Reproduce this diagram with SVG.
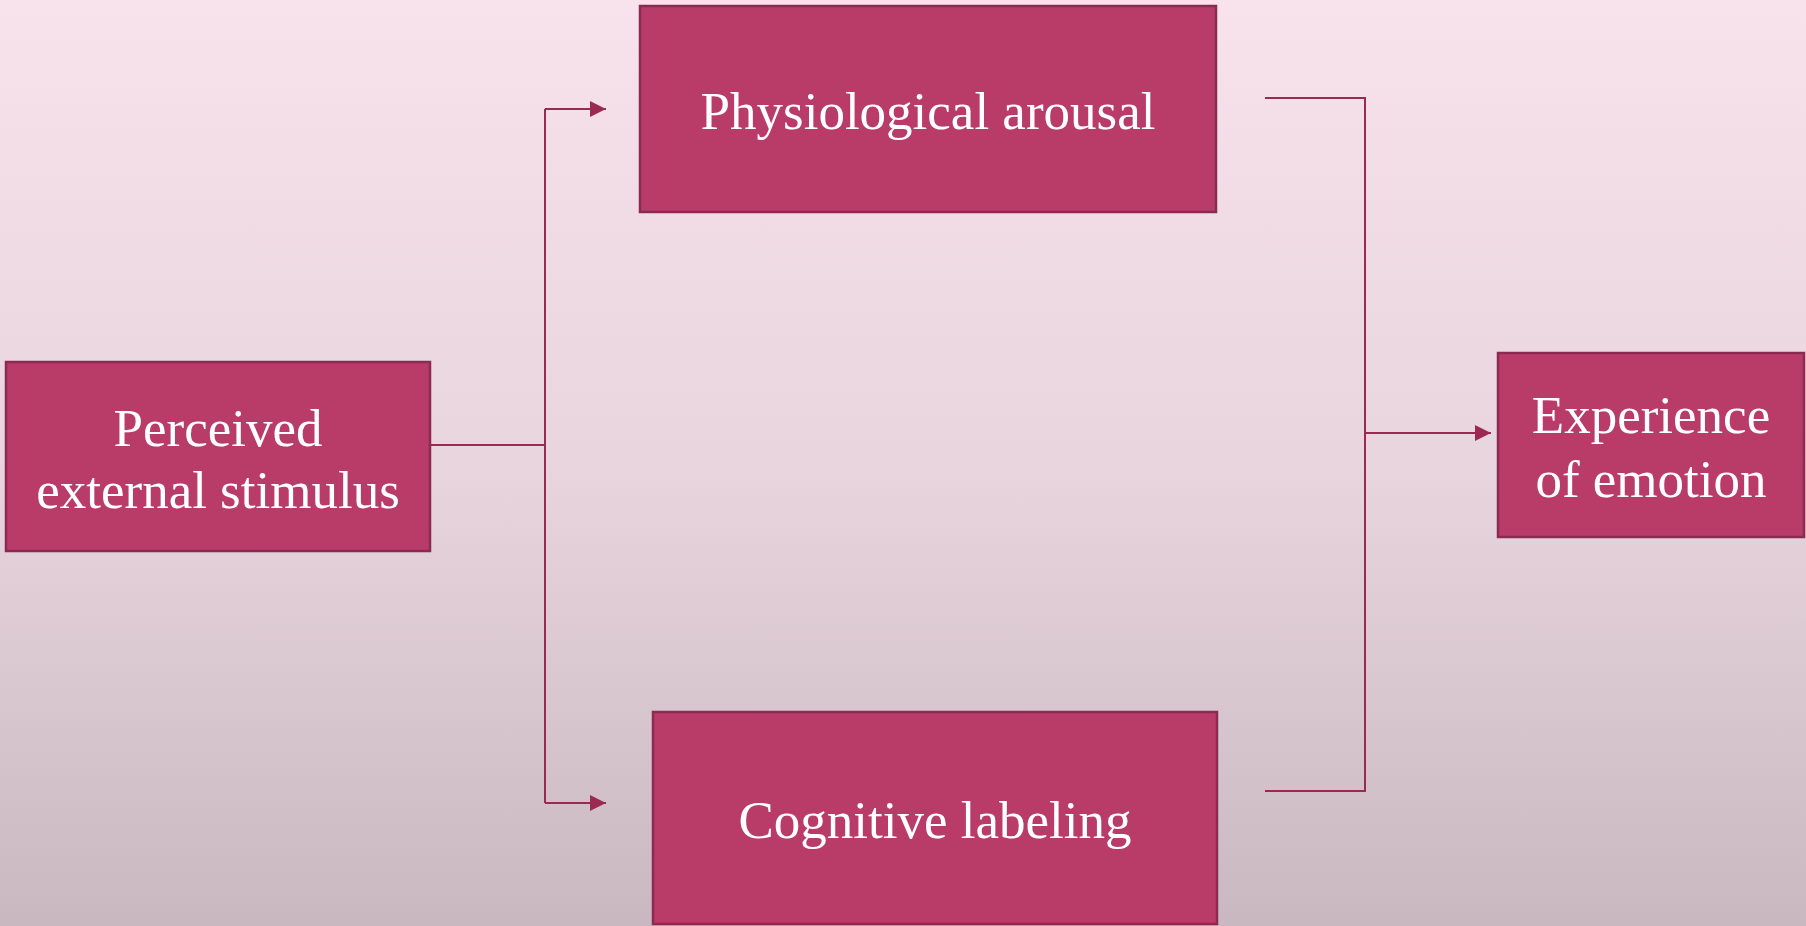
<svg xmlns="http://www.w3.org/2000/svg" width="1806" height="926" viewBox="0 0 1806 926">
<defs>
<linearGradient id="bg" x1="0" y1="0" x2="0" y2="1">
<stop offset="0" stop-color="#F8E2EB"/>
<stop offset="0.5" stop-color="#E8D5DE"/>
<stop offset="1" stop-color="#CAB8C1"/>
</linearGradient>
<marker id="arr" markerWidth="16" markerHeight="16" refX="16" refY="8" orient="auto" markerUnits="userSpaceOnUse">
<path d="M0,0 L16,8 L0,16 Z" fill="#9B2A53"/>
</marker>
<style>
.box{fill:#B93C68;stroke:#8C2A4F;stroke-width:2.5}
.lbl{font-family:"Liberation Serif","Times New Roman",serif;font-size:53px;fill:#FFFFFF;text-anchor:middle}
.ln{fill:none;stroke:#9B2A53;stroke-width:2}
</style>
</defs>
<rect x="0" y="0" width="1806" height="926" fill="url(#bg)"/>
<g id="connectors">
<path class="ln" d="M430,445 H545"/>
<path class="ln" d="M545,109 V803"/>
<path class="ln" d="M545,109 H606" marker-end="url(#arr)"/>
<path class="ln" d="M545,803 H606" marker-end="url(#arr)"/>
<path class="ln" d="M1265,98 H1365 V791 H1265"/>
<path class="ln" d="M1365,433 H1491" marker-end="url(#arr)"/>
</g>
<g id="node-stimulus">
<rect class="box" x="6" y="362" width="424" height="189"/>
<text class="lbl" x="218" y="446">Perceived</text>
<text class="lbl" x="218" y="508">external stimulus</text>
</g>
<g id="node-arousal">
<rect class="box" x="640" y="6" width="576" height="206"/>
<text class="lbl" x="928" y="129">Physiological arousal</text>
</g>
<g id="node-labeling">
<rect class="box" x="653" y="712" width="564" height="212"/>
<text class="lbl" x="935" y="838">Cognitive labeling</text>
</g>
<g id="node-emotion">
<rect class="box" x="1498" y="353" width="306" height="184"/>
<text class="lbl" x="1651" y="433">Experience</text>
<text class="lbl" x="1651" y="497">of emotion</text>
</g>
</svg>
